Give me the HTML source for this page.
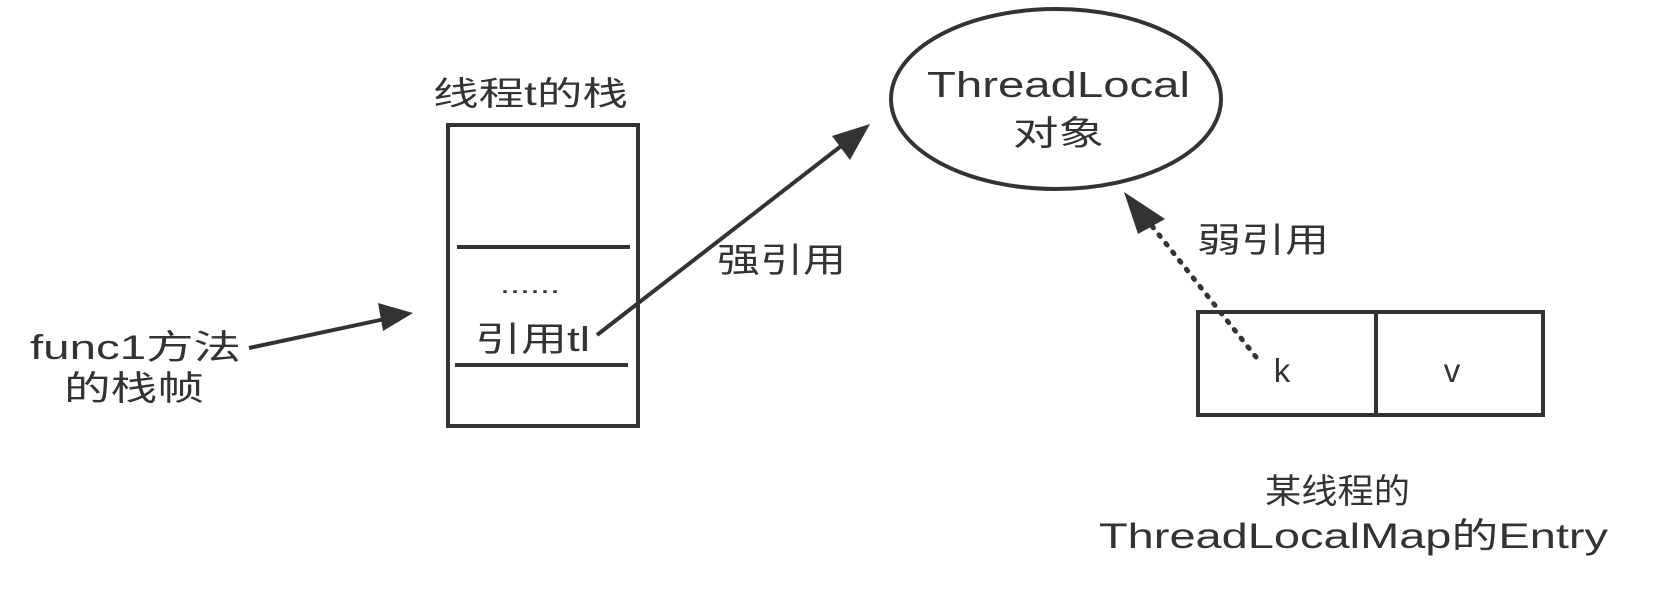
<!DOCTYPE html>
<html><head><meta charset="utf-8"><style>
html,body{margin:0;padding:0;background:#fff;}
svg text{font-family:"Liberation Sans","Noto Sans CJK SC",sans-serif;fill:#333;}
</style></head><body>
<svg width="1672" height="586" viewBox="0 0 1672 586" xmlns="http://www.w3.org/2000/svg">
<!-- stack box -->
<rect x="448" y="125" width="190" height="301" fill="none" stroke="#333" stroke-width="4"/>
<line x1="457" y1="247" x2="630" y2="247" stroke="#333" stroke-width="4"/>
<line x1="455" y1="365" x2="628" y2="365" stroke="#333" stroke-width="4"/>
<text x="433" y="105" font-size="33" textLength="195" lengthAdjust="spacingAndGlyphs">线程t的栈</text>
<text x="500" y="293" font-size="26" textLength="60" lengthAdjust="spacingAndGlyphs">......</text>
<text x="475" y="351" font-size="34" textLength="115" lengthAdjust="spacingAndGlyphs">引用tl</text>
<!-- func1 -->
<text x="30" y="359" font-size="34" textLength="211" lengthAdjust="spacingAndGlyphs">func1方法</text>
<text x="64" y="400" font-size="34" textLength="140" lengthAdjust="spacingAndGlyphs">的栈帧</text>
<line x1="249" y1="348" x2="385" y2="319" stroke="#333" stroke-width="4"/>
<polygon points="413,313 378,303 383,331" fill="#333"/>
<!-- strong ref -->
<line x1="597" y1="335" x2="845" y2="143" stroke="#333" stroke-width="4"/>
<polygon points="870,124 832,136 850,160" fill="#333"/>
<text x="717" y="272" font-size="34" textLength="129" lengthAdjust="spacingAndGlyphs">强引用</text>
<!-- ellipse -->
<ellipse cx="1056" cy="99" rx="165" ry="90" fill="none" stroke="#333" stroke-width="4"/>
<text x="927" y="97" font-size="36" textLength="263" lengthAdjust="spacingAndGlyphs">ThreadLocal</text>
<text x="1013" y="145" font-size="34" textLength="91" lengthAdjust="spacingAndGlyphs">对象</text>
<!-- weak ref -->
<line x1="1256" y1="357" x2="1152" y2="226" stroke="#333" stroke-width="5" stroke-dasharray="2 9" stroke-linecap="round"/>
<polygon points="1124,192 1165,219 1138,234" fill="#333"/>
<text x="1197" y="252" font-size="34" textLength="132" lengthAdjust="spacingAndGlyphs">弱引用</text>
<!-- entry -->
<rect x="1198" y="312" width="345" height="103" fill="none" stroke="#333" stroke-width="4"/>
<line x1="1376" y1="312" x2="1376" y2="415" stroke="#333" stroke-width="4"/>
<text x="1282" y="382" font-size="33" text-anchor="middle">k</text>
<text x="1452" y="382" font-size="33" text-anchor="middle">v</text>
<text x="1265" y="503" font-size="34" textLength="145" lengthAdjust="spacingAndGlyphs">某线程的</text>
<text x="1099" y="548" font-size="35" textLength="509" lengthAdjust="spacingAndGlyphs">ThreadLocalMap的Entry</text>
</svg>
</body></html>
